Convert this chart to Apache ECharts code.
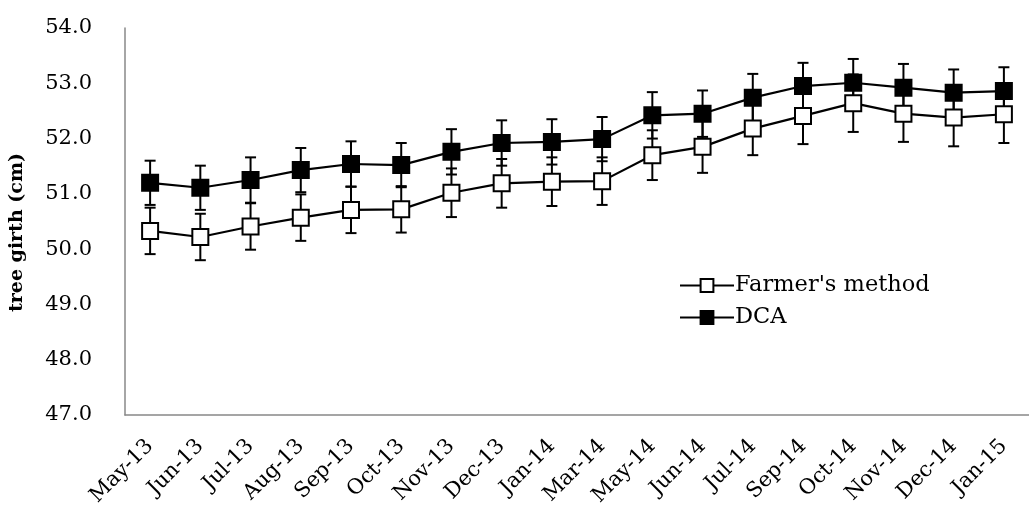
<!DOCTYPE html>
<html>
<head>
<meta charset="utf-8">
<script src="https://cdn.jsdelivr.net/npm/echarts@6/dist/echarts.min.js"></script>
<style>html,body{margin:0;padding:0;background:#fff;}#chart{width:1029px;height:516px;}</style>
</head>
<body>
<div id="chart"></div>
<script>
var categories = ['May-13','Jun-13','Jul-13','Aug-13','Sep-13','Oct-13','Nov-13','Dec-13','Jan-14','Mar-14','May-14','Jun-14','Jul-14','Sep-14','Oct-14','Nov-14','Dec-14','Jan-15'];
var farmer = [50.33, 50.22, 50.41, 50.57, 50.71, 50.72, 51.02, 51.19, 51.22, 51.23, 51.70, 51.85, 52.18, 52.41, 52.64, 52.45, 52.38, 52.44];
var dca = [51.20, 51.11, 51.25, 51.43, 51.54, 51.52, 51.76, 51.92, 51.94, 51.99, 52.42, 52.45, 52.74, 52.95, 53.01, 52.92, 52.83, 52.86];
var farmerErr = [0.42, 0.42, 0.42, 0.42, 0.42, 0.42, 0.44, 0.44, 0.44, 0.43, 0.45, 0.47, 0.48, 0.51, 0.52, 0.51, 0.52, 0.52];
var dcaErr = [0.40, 0.40, 0.41, 0.40, 0.41, 0.40, 0.41, 0.41, 0.41, 0.40, 0.42, 0.42, 0.43, 0.42, 0.43, 0.43, 0.42, 0.43];
var yMin = 47, yMax = 54, yStep = 1;
var FONT = 'DejaVu Serif';

function errData(vals, errs) {
  return vals.map(function (v, i) { return [i, v - errs[i], v + errs[i]]; });
}
function renderErr(params, api) {
  var x = api.value(0);
  var lo = api.coord([x, api.value(1)]);
  var hi = api.coord([x, api.value(2)]);
  var w = 5.5;
  var st = { stroke: '#000', lineWidth: 2 };
  return {
    type: 'group',
    children: [
      { type: 'line', shape: { x1: lo[0], y1: lo[1], x2: hi[0], y2: hi[1] }, style: st },
      { type: 'line', shape: { x1: lo[0] - w, y1: lo[1], x2: lo[0] + w, y2: lo[1] }, style: st },
      { type: 'line', shape: { x1: hi[0] - w, y1: hi[1], x2: hi[0] + w, y2: hi[1] }, style: st }
    ]
  };
}

var chart = echarts.init(document.getElementById('chart'));
chart.setOption({
  animation: false,
  backgroundColor: '#fff',
  grid: { left: 124, right: -9, top: 28, bottom: 101, containLabel: false },
  legend: {
    orient: 'vertical',
    left: 674,
    top: 269,
    itemWidth: 54,
    itemHeight: 16,
    itemGap: 9,
    data: ["Farmer's method", 'DCA'],
    textStyle: { fontFamily: FONT, fontSize: 22.5, color: '#000', padding: [0, 0, 0, -4] }
  },
  xAxis: {
    type: 'category',
    data: categories,
    boundaryGap: true,
    axisLine: { show: true, lineStyle: { color: '#888', width: 1.5 } },
    axisTick: { show: false },
    axisLabel: { rotate: 45, margin: 28, fontFamily: FONT, fontSize: 21, color: '#000', interval: 0 },
    splitLine: { show: false }
  },
  yAxis: {
    type: 'value',
    min: yMin, max: yMax, interval: yStep,
    name: 'tree girth (cm)',
    nameLocation: 'middle',
    nameRotate: 90,
    nameGap: 98,
    nameTextStyle: { fontFamily: FONT, fontSize: 19, fontWeight: 'bold', color: '#000', padding: [0, 0, 0, -22] },
    axisLine: { show: true, lineStyle: { color: '#888', width: 1.5 } },
    axisTick: { show: false },
    axisLabel: { margin: 33, fontFamily: FONT, fontSize: 21, color: '#000', formatter: function (v) { return v.toFixed(1); } },
    splitLine: { show: false }
  },
  series: [
    {
      type: 'custom', name: 'farmerErr', renderItem: renderErr, data: errData(farmer, farmerErr), z: 1, silent: true
    },
    {
      type: 'custom', name: 'dcaErr', renderItem: renderErr, data: errData(dca, dcaErr), z: 1, silent: true
    },
    {
      name: "Farmer's method", type: 'line', data: farmer, z: 3,
      symbol: 'rect', symbolSize: 16,
      itemStyle: { color: '#fff', borderColor: '#000', borderWidth: 2 },
      lineStyle: { color: '#000', width: 2.2 }
    },
    {
      name: 'DCA', type: 'line', data: dca, z: 4,
      symbol: 'rect', symbolSize: 16,
      itemStyle: { color: '#000', borderColor: '#000', borderWidth: 2 },
      lineStyle: { color: '#000', width: 2.2 }
    }
  ]
});
</script>
</body>
</html>
